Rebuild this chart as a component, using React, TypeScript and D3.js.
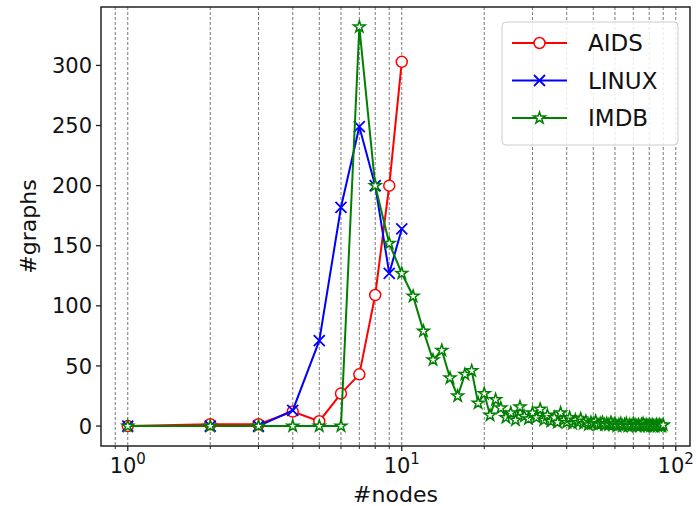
import React from 'react';
import * as d3 from 'd3';

const aidsNodes = [1, 2, 3, 4, 5, 6, 7, 8, 9, 10];
const aidsCounts = [0, 1.5, 1.5, 12, 4, 27, 43, 109, 200, 303];

const linuxNodes = [1, 2, 3, 4, 5, 6, 7, 8, 9, 10];
const linuxCounts = [0, 0, 0, 13, 71, 182, 249, 200, 127, 164];

const imdbNodes = [
  1, 2, 3, 4, 5, 6, 7, 8, 9, 10, 11, 12, 13, 14, 15, 16, 17, 18, 19, 20,
  21, 22, 23, 24, 25, 26, 27, 28, 29, 30, 31, 32, 33, 34, 35, 36, 37, 38, 39, 40,
  41, 42, 43, 44, 45, 46, 47, 48, 49, 50, 51, 52, 53, 54, 55, 56, 57, 58, 59, 60,
  61, 62, 63, 64, 65, 66, 67, 68, 69, 70, 71, 72, 73, 74, 75, 76, 77, 78, 79, 80,
  81, 82, 83, 84, 85, 86, 87, 88, 89, 90,
];
const imdbCounts = [
  0, 0, 0, 0, 0, 0, 332, 200, 152, 127, 108, 79, 55, 63, 40, 25, 43, 46, 19, 27,
  9, 22, 15, 7, 11, 5, 16, 8, 6, 11, 7, 14, 5, 9, 4, 7, 3, 11, 5, 3,
  7, 2, 5, 3, 6, 2, 4, 1, 3, 2, 4, 1, 2, 3, 1, 2, 1, 3, 1, 2,
  0, 1, 2, 0, 1, 2, 0, 1, 0, 2, 1, 0, 1, 0, 1, 2, 0, 1, 0, 1,
  0, 1, 0, 0, 1, 0, 1, 0, 0, 1,
];

const yTicks = [0, 50, 100, 150, 200, 250, 300];
const xMajorTicks = [1, 10, 100];
const xMajorExponents = ['0', '1', '2'];
const xMinorTicks = [0.9, 2, 3, 4, 5, 6, 7, 8, 9, 20, 30, 40, 50, 60, 70, 80, 90];

const seriesNames = ['AIDS', 'LINUX', 'IMDB'];
const seriesColors = ['#ff0000', '#0000ff', '#008000'];

const W = 697;
const H = 506;
const L = 101;
const R = 690;
const T = 7;
const B = 446;

function Marker({ kind, color }: { kind: number; color: string }) {
  if (kind === 0) {
    return <circle r={5.5} fill="white" stroke={color} strokeWidth={1.5} />;
  }
  if (kind === 1) {
    const s = 5.5;
    return (
      <path
        d={`M${-s},${-s}L${s},${s}M${-s},${s}L${s},${-s}`}
        stroke={color}
        strokeWidth={1.8}
        fill="none"
      />
    );
  }
  const star = d3.symbol().type(d3.symbolStar).size(42)();
  return <path d={star || ''} fill="white" stroke={color} strokeWidth={1.5} />;
}

export default function App() {
  const allX = [...aidsNodes, ...linuxNodes, ...imdbNodes];
  const allY = [...aidsCounts, ...linuxCounts, ...imdbCounts];
  const lx0 = Math.log10(d3.min(allX) as number);
  const lx1 = Math.log10(d3.max(allX) as number);
  const mx = (lx1 - lx0) * 0.05;
  const x = d3
    .scaleLog()
    .domain([Math.pow(10, lx0 - mx), Math.pow(10, lx1 + mx)])
    .range([L, R]);
  const y0 = d3.min(allY) as number;
  const y1 = d3.max(allY) as number;
  const my = (y1 - y0) * 0.05;
  const y = d3.scaleLinear().domain([y0 - my, y1 + my]).range([B, T]);

  const series = [
    { xs: aidsNodes, ys: aidsCounts },
    { xs: linuxNodes, ys: linuxCounts },
    { xs: imdbNodes, ys: imdbCounts },
  ];

  const line = d3
    .line<[number, number]>()
    .x((d) => x(d[0]))
    .y((d) => y(d[1]));

  const font = 'DejaVu Sans, sans-serif';

  return (
    <svg
      width={W}
      height={H}
      style={{ position: 'absolute', left: 0, top: 0, background: 'white' }}
      fontFamily={font}
    >
      <rect x={0} y={0} width={W} height={H} fill="white" />
      {/* vertical grid */}
      {[...xMajorTicks, ...xMinorTicks].map((t, i) => (
        <line
          key={'g' + i}
          x1={x(t)}
          x2={x(t)}
          y1={T}
          y2={B}
          stroke="#444"
          strokeWidth={0.9}
          strokeDasharray="3,2"
          opacity={0.8}
        />
      ))}
      {/* series */}
      {series.map((s, si) => {
        const pts: [number, number][] = s.xs.map((v, i) => [v, s.ys[i]]);
        return (
          <g key={'s' + si}>
            <path d={line(pts) || ''} fill="none" stroke={seriesColors[si]} strokeWidth={2} />
            {pts.map((p, i) => (
              <g key={i} transform={`translate(${x(p[0])},${y(p[1])})`}>
                <Marker kind={si} color={seriesColors[si]} />
              </g>
            ))}
          </g>
        );
      })}
      {/* frame */}
      <rect x={L} y={T} width={R - L} height={B - T} fill="none" stroke="#222" strokeWidth={1.5} />
      {/* y ticks */}
      {yTicks.map((t) => (
        <g key={'y' + t}>
          <line x1={L - 5} x2={L} y1={y(t)} y2={y(t)} stroke="#222" strokeWidth={1.3} />
          <text x={L - 9} y={y(t)} dy="0.36em" textAnchor="end" fontSize={21} fill="#111">
            {t}
          </text>
        </g>
      ))}
      {/* x ticks */}
      {xMajorTicks.map((t, i) => (
        <g key={'xm' + t}>
          <line x1={x(t)} x2={x(t)} y1={B} y2={B + 5} stroke="#222" strokeWidth={1.3} />
          <text x={x(t)} y={B + 27} textAnchor="middle" fontSize={21} fill="#111">
            10
            <tspan dy={-9} fontSize={15}>
              {xMajorExponents[i]}
            </tspan>
          </text>
        </g>
      ))}
      {xMinorTicks.map((t) => (
        <line key={'xn' + t} x1={x(t)} x2={x(t)} y1={B} y2={B + 3} stroke="#222" strokeWidth={1} />
      ))}
      {/* axis labels */}
      <text x={(L + R) / 2} y={502} textAnchor="middle" fontSize={22} fill="#111">
        #nodes
      </text>
      <text
        transform={`translate(36,${(T + B) / 2}) rotate(-90)`}
        textAnchor="middle"
        fontSize={22}
        fill="#111"
      >
        #graphs
      </text>
      {/* legend */}
      <rect x={502} y={22} width={176} height={123} rx={4} fill="white" fillOpacity={0.85} stroke="#ccc" />
      {seriesNames.map((n, i) => {
        const ly = 43 + i * 37.5;
        return (
          <g key={'l' + n}>
            <line x1={512} x2={567} y1={ly} y2={ly} stroke={seriesColors[i]} strokeWidth={2} />
            <g transform={`translate(539.5,${ly})`}>
              <Marker kind={i} color={seriesColors[i]} />
            </g>
            <text x={588} y={ly} dy="0.36em" fontSize={23} fill="#111">
              {n}
            </text>
          </g>
        );
      })}
    </svg>
  );
}
